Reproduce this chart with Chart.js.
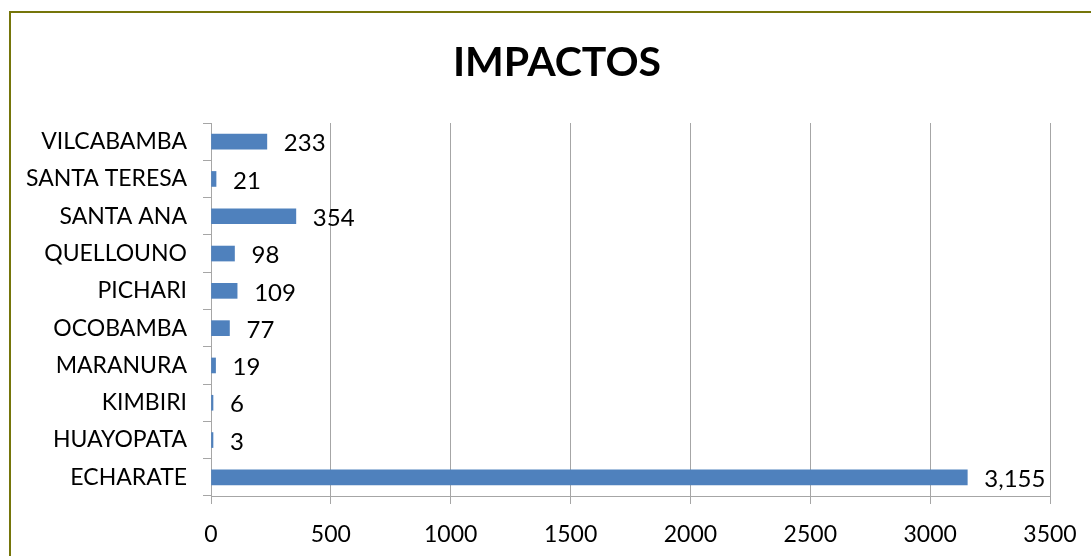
<!DOCTYPE html>
<html>
<head>
<meta charset="utf-8">
<script src="https://cdn.jsdelivr.net/npm/chart.js@4"></script>
<style>
  html, body { margin: 0; padding: 0; background: #fff; }
  #wrap { width: 1091px; height: 556px; }
</style>
</head>
<body>
<div id="wrap"><canvas id="chart" width="1091" height="556"></canvas></div>
<script>
// data, top to bottom as drawn
const categories = ['VILCABAMBA', 'SANTA TERESA', 'SANTA ANA', 'QUELLOUNO', 'PICHARI',
    'OCOBAMBA', 'MARANURA', 'KIMBIRI', 'HUAYOPATA', 'ECHARATE'];
const impactos = [233, 21, 354, 98, 109, 77, 19, 6, 3, 3155];
const xTicks = [0, 500, 1000, 1500, 2000, 2500, 3000, 3500];
const chartTitle = 'IMPACTOS';

const fontFamily = 'Lato, "Open Sans", sans-serif';
const gridGray = '#a6a6a6';

// olive frame round the chart, plus the title (centred on the frame, not the plot)
const framePlugin = {
    id: 'frame',
    afterDraw(chart) {
        const c = chart.ctx;
        c.save();
        c.strokeStyle = '#75750a';
        c.lineWidth = 2;
        c.strokeRect(10, 12, 1200, 700);
        c.fillStyle = '#000';
        c.font = 'bold 41px ' + fontFamily;
        c.textAlign = 'center';
        c.textBaseline = 'middle';
        c.fillText(chartTitle, 557, 63);
        c.restore();
    }
};

// value labels right of each bar
const valueLabels = {
    id: 'valueLabels',
    afterDatasetsDraw(chart) {
        const c = chart.ctx;
        const meta = chart.getDatasetMeta(0);
        c.save();
        c.fillStyle = '#000';
        c.font = '24px ' + fontFamily;
        c.textAlign = 'left';
        c.textBaseline = 'middle';
        meta.data.forEach((bar, i) => {
            const v = impactos[i];
            c.fillText(v.toLocaleString('en-US'), bar.x + 17, bar.y + 2);
        });
        c.restore();
    }
};

new Chart(document.getElementById('chart'), {
    type: 'bar',
    data: {
        labels: categories,
        datasets: [{
            label: chartTitle,
            data: impactos,
            backgroundColor: '#4f81bd',
            borderWidth: 0,
            barThickness: 15,
            minBarLength: 2
        }]
    },
    options: {
        indexAxis: 'y',
        responsive: false,
        animation: false,
        layout: { padding: { left: 0, right: 41, top: 123, bottom: 0 } },
        plugins: {
            legend: { display: false },
            tooltip: { enabled: false },
            title: { display: false }
        },
        scales: {
            x: {
                min: 0,
                max: 3500,
                afterBuildTicks(scale) {
                    scale.ticks = xTicks.map(v => ({ value: v }));
                },
                afterFit(scale) {
                    scale.height = 60;
                    scale.paddingLeft = 0;
                    scale.paddingRight = 0;
                },
                ticks: {
                    color: '#000',
                    font: { family: fontFamily, size: 23 },
                    padding: 17,
                    maxRotation: 0,
                    callback: v => String(v)
                },
                grid: {
                    color: gridGray,
                    tickColor: gridGray,
                    tickLength: 8,
                    lineWidth: 1
                },
                border: { color: gridGray }
            },
            y: {
                afterFit(scale) { scale.width = 211; },
                ticks: {
                    color: '#000',
                    font: { family: fontFamily, size: 23 },
                    padding: 16
                },
                grid: {
                    offset: true,
                    drawOnChartArea: false,
                    color: gridGray,
                    tickColor: gridGray,
                    tickLength: 8
                },
                border: { color: gridGray }
            }
        }
    },
    plugins: [framePlugin, valueLabels]
});
</script>
</body>
</html>
